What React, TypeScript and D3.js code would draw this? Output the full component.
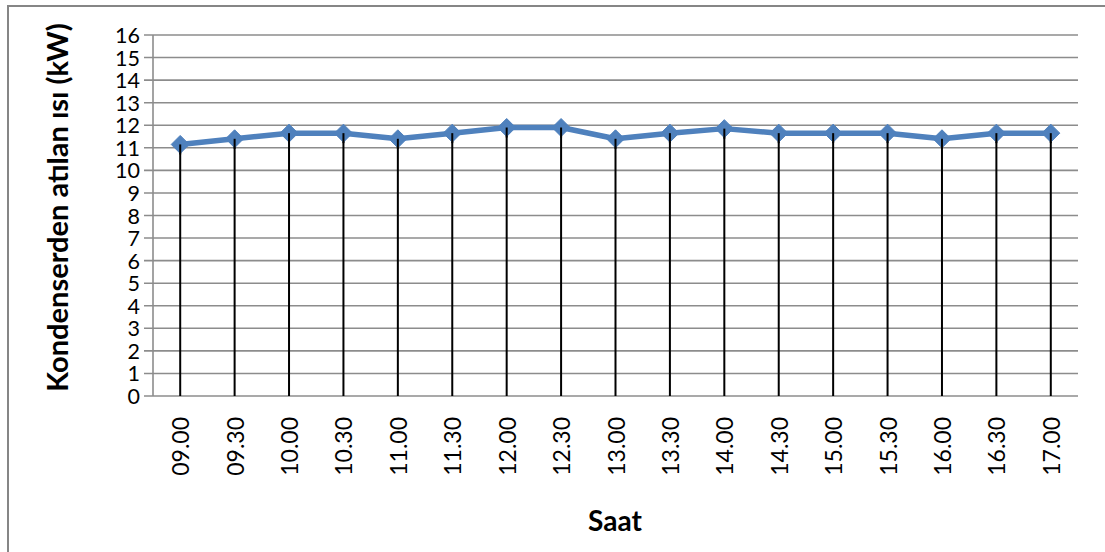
import React from "react";
import * as d3 from "d3";

// Half-hour readings of heat rejected by the condenser
const hours = [
  "09.00", "09.30", "10.00", "10.30", "11.00", "11.30", "12.00", "12.30", "13.00",
  "13.30", "14.00", "14.30", "15.00", "15.30", "16.00", "16.30", "17.00",
];
const heatKW = [
  11.15, 11.4, 11.65, 11.65, 11.4, 11.65, 11.9, 11.9, 11.4,
  11.65, 11.85, 11.65, 11.65, 11.65, 11.4, 11.65, 11.65,
];
const yTicks = d3.range(0, 17, 1);

const W = 1105;
const H = 552;
const plot = { left: 153, right: 1078, top: 35, bottom: 396 };
const FONT = "Lato, 'Open Sans', sans-serif";

export default function App() {
  const x = d3
    .scaleBand<string>()
    .domain(hours)
    .range([plot.left, plot.right])
    .padding(0);
  const y = d3.scaleLinear().domain([0, 16]).range([plot.bottom, plot.top]);
  const cx = (h: string) => (x(h) as number) + x.bandwidth() / 2;

  const line = d3
    .line<number>()
    .x((_, i) => cx(hours[i]))
    .y((v) => y(v));

  // square diamond marker, half-diagonal r
  const r = 9;
  const diamond = `M0,${-r}L${r},0L0,${r}L${-r},0Z`;

  return (
    <div style={{ position: "absolute", left: 0, top: 0 }}>
      <svg width={W} height={H} style={{ display: "block", background: "#fff" }}>
        <rect x={8} y={6} width={1110} height={560} fill="#fff" stroke="#868686" strokeWidth={2} />

        {/* horizontal gridlines */}
        {yTicks.map((t) => (
          <line
            key={"g" + t}
            x1={plot.left - 9}
            x2={plot.right}
            y1={y(t)}
            y2={y(t)}
            stroke="#8c8c8c"
            strokeWidth={1.6}
          />
        ))}
        {/* y axis */}
        <line x1={plot.left} x2={plot.left} y1={plot.top} y2={plot.bottom} stroke="#8c8c8c" strokeWidth={1.6} />

        {/* y tick labels */}
        {yTicks.map((t) => (
          <text
            key={"yl" + t}
            x={plot.left - 13}
            y={y(t)}
            textAnchor="end"
            dominantBaseline="central"
            fontFamily={FONT}
            fontSize={21.5}
            fill="#000"
          >
            {t}
          </text>
        ))}

        {/* drop lines */}
        {heatKW.map((v, i) => (
          <line
            key={"d" + i}
            x1={cx(hours[i])}
            x2={cx(hours[i])}
            y1={y(v)}
            y2={plot.bottom}
            stroke="#000"
            strokeWidth={2}
          />
        ))}

        {/* series */}
        <path d={line(heatKW) as string} fill="none" stroke="#4f81bd" strokeWidth={5.5} strokeLinejoin="round" />
        {heatKW.map((v, i) => (
          <path
            key={"m" + i}
            d={diamond}
            transform={`translate(${cx(hours[i])},${y(v)})`}
            fill="#4f81bd"
            stroke="#4f81bd"
            strokeWidth={1}
          />
        ))}
        {/* drop lines continue through the markers */}
        {heatKW.map((v, i) => (
          <line
            key={"d2" + i}
            x1={cx(hours[i])}
            x2={cx(hours[i])}
            y1={y(v)}
            y2={y(v) + 10}
            stroke="#000"
            strokeWidth={2}
          />
        ))}

        {/* x tick labels */}
        {hours.map((h) => (
          <text
            key={"xl" + h}
            transform={`translate(${cx(h)},417) rotate(-90)`}
            textAnchor="end"
            dominantBaseline="central"
            fontFamily={FONT}
            fontSize={23}
            fill="#000"
          >
            {h}
          </text>
        ))}

        {/* axis titles */}
        <text
          transform={`translate(56,${(plot.top + plot.bottom) / 2 - 8}) rotate(-90)`}
          textAnchor="middle"
          dominantBaseline="central"
          fontFamily={FONT}
          fontWeight="bold"
          fontSize={29}
          fill="#000"
        >
          Kondenserden atılan ısı (kW)
        </text>
        <text
          x={615}
          y={531}
          textAnchor="middle"
          fontFamily={FONT}
          fontWeight="bold"
          fontSize={28}
          fill="#000"
        >
          Saat
        </text>
      </svg>
    </div>
  );
}
